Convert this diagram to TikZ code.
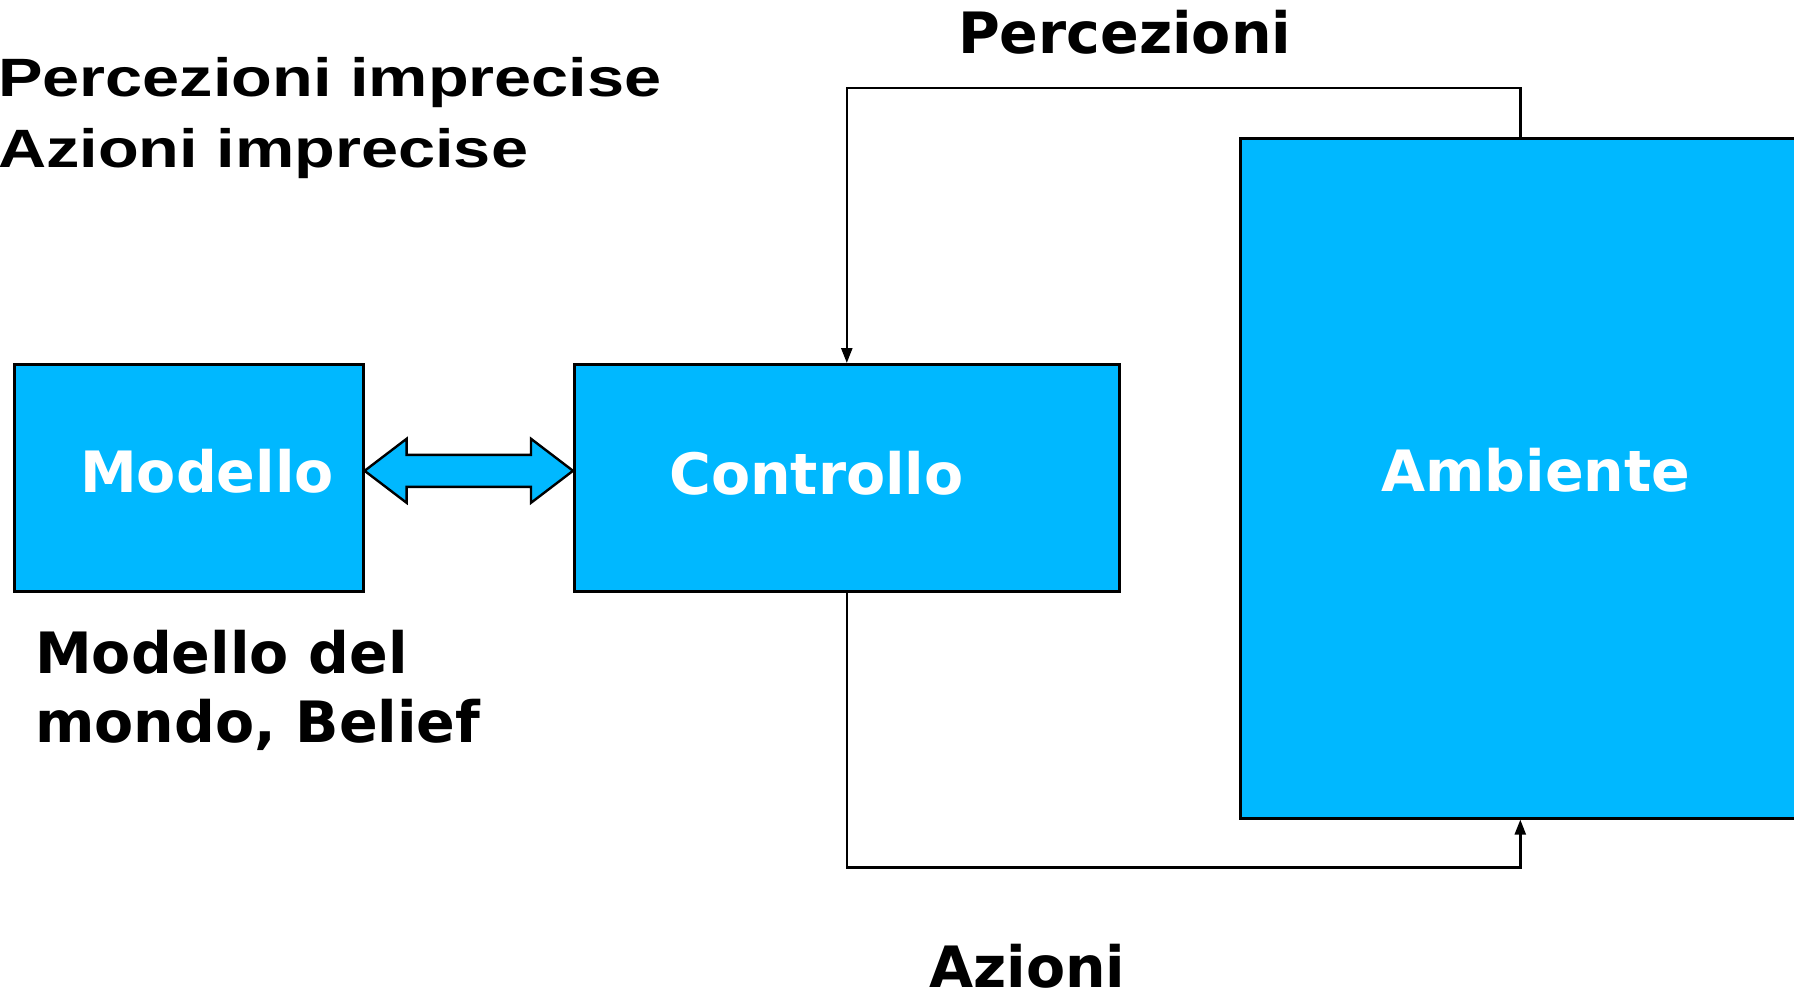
\documentclass[tikz,border=0pt]{standalone}
\usepackage{fontspec}
\setmainfont{DejaVu Sans}
\newfontfamily\stretta[FakeStretch=1.235, UprightFont={* Bold}]{Liberation Sans}
\usetikzlibrary{arrows.meta,calc}
\definecolor{celeste}{RGB}{0,184,255}

\begin{document}
\begin{tikzpicture}[x=1pt,y=-1pt]
\tikzset{blocco/.style={draw, line width=2.6pt, fill=celeste, inner sep=0pt, anchor=north west},
  scritta/.style={font=\fontsize{57}{69}\selectfont\bfseries, anchor=base west, inner sep=0pt},
  filo/.style={line width=2.4pt, -{Triangle[width=11pt,length=15pt]}},
  freccia/.style={draw, line width=2.4pt, fill=celeste, line join=miter}}
\useasboundingbox (0,0) rectangle (1794,995);
% blocchi
\node[blocco, minimum width=349, minimum height=227] (mod) at (13,363) {};
\node[blocco, minimum width=545, minimum height=227] (ctl) at (573,363) {};
\node[blocco, minimum width=560, minimum height=680] (amb) at (1239,137) {};
\node[scritta, white] (tmod) at (80,492) {Modello};
\node[scritta, white] (tctl) at (669,494) {Controllo};
\node[scritta, white] (tamb) at (1381,491) {Ambiente};
% scritte
\node[scritta] (perc) at (958,54) {Percezioni};
\node[scritta] (az) at (929,987) {Azioni};
\node[scritta, align=left] (bel) at (35,742) {Modello del\\mondo, Belief};
\node[anchor=base west, inner sep=0pt, align=left, font=\stretta\fontsize{54}{71}\selectfont] (impr) at (-2,168) {Percezioni imprecise\\Azioni imprecise};
% freccia doppia tra modello e controllo
\coordinate (sx) at ($(mod.east)+(0,-7)$);
\coordinate (dx) at ($(ctl.west)+(0,-7)$);
\draw[freccia] (sx) -- ++(42,-32) -- ++(0,16) -- ($(dx)+(-42,-16)$) -- ++(0,-16) -- (dx)
  -- ++(-42,32) -- ++(0,-16) -- ($(sx)+(42,16)$) -- ++(0,16) -- cycle;
% percezioni e azioni
\draw[filo] (amb.north) -- ++(0,-49) -| (ctl.north);
\draw[filo] (ctl.south) -- ++(0,275) -| (amb.south);
\end{tikzpicture}
\end{document}
